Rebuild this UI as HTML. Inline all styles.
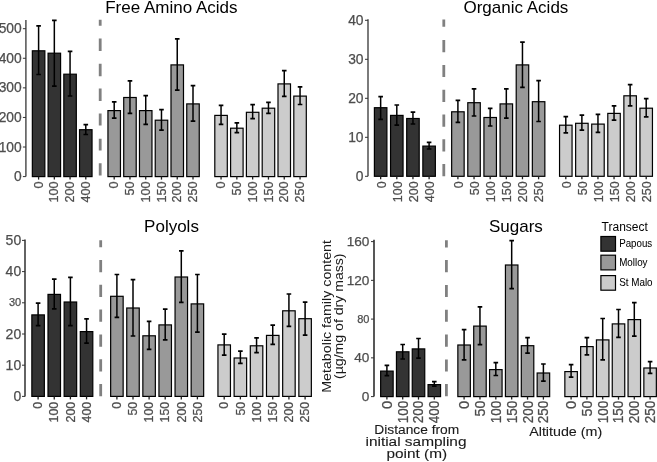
<!DOCTYPE html>
<html><head><meta charset="utf-8"><style>
html,body{margin:0;padding:0;background:#fff;}
svg{display:block;font-family:"Liberation Sans", sans-serif;will-change:transform;}
</style></head><body>
<svg width="657" height="462" viewBox="0 0 657 462">
<rect width="657" height="462" fill="#fff"/>
<text x="171.35" y="12.6" text-anchor="middle" font-size="17" fill="#000">Free Amino Acids</text>
<path d="M25.9 20V176.6" stroke="#444" stroke-width="1.4"/>
<path d="M22.9 176.6H25.9" stroke="#333" stroke-width="1"/>
<text x="21.7" y="181.15" text-anchor="end" font-size="13.8" fill="#4d4d4d" stroke="#4d4d4d" stroke-width="0.25">0</text>
<path d="M22.9 147.02H25.9" stroke="#333" stroke-width="1"/>
<text x="21.7" y="151.57" text-anchor="end" font-size="13.8" fill="#4d4d4d" stroke="#4d4d4d" stroke-width="0.25">100</text>
<path d="M22.9 117.44H25.9" stroke="#333" stroke-width="1"/>
<text x="21.7" y="121.99" text-anchor="end" font-size="13.8" fill="#4d4d4d" stroke="#4d4d4d" stroke-width="0.25">200</text>
<path d="M22.9 87.86H25.9" stroke="#333" stroke-width="1"/>
<text x="21.7" y="92.41" text-anchor="end" font-size="13.8" fill="#4d4d4d" stroke="#4d4d4d" stroke-width="0.25">300</text>
<path d="M22.9 58.28H25.9" stroke="#333" stroke-width="1"/>
<text x="21.7" y="62.83" text-anchor="end" font-size="13.8" fill="#4d4d4d" stroke="#4d4d4d" stroke-width="0.25">400</text>
<path d="M22.9 28.7H25.9" stroke="#333" stroke-width="1"/>
<text x="21.7" y="33.25" text-anchor="end" font-size="13.8" fill="#4d4d4d" stroke="#4d4d4d" stroke-width="0.25">500</text>
<path d="M100.2 19.8V25.7M100.2 38.6V51M100.2 63.8V76.2M100.2 88.6V101M100.2 113.6V125.5M100.2 138.7V150.5M100.2 163.3V175.5" stroke="#808080" stroke-width="2.8" fill="none"/>
<rect x="32.35" y="50.8" width="12.5" height="125.8" fill="#333333" stroke="#000" stroke-width="1.2"/>
<rect x="48.08" y="53.2" width="12.5" height="123.4" fill="#333333" stroke="#000" stroke-width="1.2"/>
<rect x="63.81" y="74.2" width="12.5" height="102.4" fill="#333333" stroke="#000" stroke-width="1.2"/>
<rect x="79.54" y="129.7" width="12.5" height="46.9" fill="#333333" stroke="#000" stroke-width="1.2"/>
<path d="M38.6 25.9V74.5" stroke="#000" stroke-width="1.5" fill="none"/>
<path d="M36.3 25.9H40.9M36.3 74.5H40.9" stroke="#000" stroke-width="1.7" fill="none"/>
<path d="M54.33 20.4V86.2" stroke="#000" stroke-width="1.5" fill="none"/>
<path d="M52.03 20.4H56.63M52.03 86.2H56.63" stroke="#000" stroke-width="1.7" fill="none"/>
<path d="M70.06 51.4V96" stroke="#000" stroke-width="1.5" fill="none"/>
<path d="M67.76 51.4H72.36M67.76 96H72.36" stroke="#000" stroke-width="1.7" fill="none"/>
<path d="M85.79 124.7V134.5" stroke="#000" stroke-width="1.5" fill="none"/>
<path d="M83.49 124.7H88.09M83.49 134.5H88.09" stroke="#000" stroke-width="1.7" fill="none"/>
<rect x="107.95" y="110.6" width="12.5" height="66" fill="#999999" stroke="#000" stroke-width="1.2"/>
<rect x="123.71" y="97.5" width="12.5" height="79.1" fill="#999999" stroke="#000" stroke-width="1.2"/>
<rect x="139.47" y="110.6" width="12.5" height="66" fill="#999999" stroke="#000" stroke-width="1.2"/>
<rect x="155.23" y="120.2" width="12.5" height="56.4" fill="#999999" stroke="#000" stroke-width="1.2"/>
<rect x="170.99" y="64.9" width="12.5" height="111.7" fill="#999999" stroke="#000" stroke-width="1.2"/>
<rect x="186.75" y="103.9" width="12.5" height="72.7" fill="#999999" stroke="#000" stroke-width="1.2"/>
<path d="M114.2 101.9V118.1" stroke="#000" stroke-width="1.5" fill="none"/>
<path d="M111.9 101.9H116.5M111.9 118.1H116.5" stroke="#000" stroke-width="1.7" fill="none"/>
<path d="M129.96 80.9V113.3" stroke="#000" stroke-width="1.5" fill="none"/>
<path d="M127.66 80.9H132.26M127.66 113.3H132.26" stroke="#000" stroke-width="1.7" fill="none"/>
<path d="M145.72 95.7V124.3" stroke="#000" stroke-width="1.5" fill="none"/>
<path d="M143.42 95.7H148.02M143.42 124.3H148.02" stroke="#000" stroke-width="1.7" fill="none"/>
<path d="M161.48 109.7V130.2" stroke="#000" stroke-width="1.5" fill="none"/>
<path d="M159.18 109.7H163.78M159.18 130.2H163.78" stroke="#000" stroke-width="1.7" fill="none"/>
<path d="M177.24 38.8V90.2" stroke="#000" stroke-width="1.5" fill="none"/>
<path d="M174.94 38.8H179.54M174.94 90.2H179.54" stroke="#000" stroke-width="1.7" fill="none"/>
<path d="M193 85.7V121.2" stroke="#000" stroke-width="1.5" fill="none"/>
<path d="M190.7 85.7H195.3M190.7 121.2H195.3" stroke="#000" stroke-width="1.7" fill="none"/>
<rect x="214.8" y="115.4" width="12.5" height="61.2" fill="#cccccc" stroke="#000" stroke-width="1.2"/>
<rect x="230.6" y="128.2" width="12.5" height="48.4" fill="#cccccc" stroke="#000" stroke-width="1.2"/>
<rect x="246.4" y="112.3" width="12.5" height="64.3" fill="#cccccc" stroke="#000" stroke-width="1.2"/>
<rect x="262.2" y="108.2" width="12.5" height="68.4" fill="#cccccc" stroke="#000" stroke-width="1.2"/>
<rect x="278" y="83.9" width="12.5" height="92.7" fill="#cccccc" stroke="#000" stroke-width="1.2"/>
<rect x="293.8" y="96.1" width="12.5" height="80.5" fill="#cccccc" stroke="#000" stroke-width="1.2"/>
<path d="M221.05 105.4V124.3" stroke="#000" stroke-width="1.5" fill="none"/>
<path d="M218.75 105.4H223.35M218.75 124.3H223.35" stroke="#000" stroke-width="1.7" fill="none"/>
<path d="M236.85 122.8V132.6" stroke="#000" stroke-width="1.5" fill="none"/>
<path d="M234.55 122.8H239.15M234.55 132.6H239.15" stroke="#000" stroke-width="1.7" fill="none"/>
<path d="M252.65 104.7V118.6" stroke="#000" stroke-width="1.5" fill="none"/>
<path d="M250.35 104.7H254.95M250.35 118.6H254.95" stroke="#000" stroke-width="1.7" fill="none"/>
<path d="M268.45 102.3V113.3" stroke="#000" stroke-width="1.5" fill="none"/>
<path d="M266.15 102.3H270.75M266.15 113.3H270.75" stroke="#000" stroke-width="1.7" fill="none"/>
<path d="M284.25 70.7V96.4" stroke="#000" stroke-width="1.5" fill="none"/>
<path d="M281.95 70.7H286.55M281.95 96.4H286.55" stroke="#000" stroke-width="1.7" fill="none"/>
<path d="M300.05 86.9V104.5" stroke="#000" stroke-width="1.5" fill="none"/>
<path d="M297.75 86.9H302.35M297.75 104.5H302.35" stroke="#000" stroke-width="1.7" fill="none"/>
<path d="M38.6 176.6V179.6" stroke="#222" stroke-width="1.3"/>
<text transform="translate(42.76 181.6) rotate(-90)" text-anchor="end" font-size="12.6" fill="#4d4d4d" stroke="#4d4d4d" stroke-width="0.25">0</text>
<path d="M54.33 176.6V179.6" stroke="#222" stroke-width="1.3"/>
<text transform="translate(58.49 181.6) rotate(-90)" text-anchor="end" font-size="12.6" fill="#4d4d4d" stroke="#4d4d4d" stroke-width="0.25">100</text>
<path d="M70.06 176.6V179.6" stroke="#222" stroke-width="1.3"/>
<text transform="translate(74.22 181.6) rotate(-90)" text-anchor="end" font-size="12.6" fill="#4d4d4d" stroke="#4d4d4d" stroke-width="0.25">200</text>
<path d="M85.79 176.6V179.6" stroke="#222" stroke-width="1.3"/>
<text transform="translate(89.95 181.6) rotate(-90)" text-anchor="end" font-size="12.6" fill="#4d4d4d" stroke="#4d4d4d" stroke-width="0.25">400</text>
<path d="M114.2 176.6V179.6" stroke="#222" stroke-width="1.3"/>
<text transform="translate(118.36 181.6) rotate(-90)" text-anchor="end" font-size="12.6" fill="#4d4d4d" stroke="#4d4d4d" stroke-width="0.25">0</text>
<path d="M129.96 176.6V179.6" stroke="#222" stroke-width="1.3"/>
<text transform="translate(134.12 181.6) rotate(-90)" text-anchor="end" font-size="12.6" fill="#4d4d4d" stroke="#4d4d4d" stroke-width="0.25">50</text>
<path d="M145.72 176.6V179.6" stroke="#222" stroke-width="1.3"/>
<text transform="translate(149.88 181.6) rotate(-90)" text-anchor="end" font-size="12.6" fill="#4d4d4d" stroke="#4d4d4d" stroke-width="0.25">100</text>
<path d="M161.48 176.6V179.6" stroke="#222" stroke-width="1.3"/>
<text transform="translate(165.64 181.6) rotate(-90)" text-anchor="end" font-size="12.6" fill="#4d4d4d" stroke="#4d4d4d" stroke-width="0.25">150</text>
<path d="M177.24 176.6V179.6" stroke="#222" stroke-width="1.3"/>
<text transform="translate(181.4 181.6) rotate(-90)" text-anchor="end" font-size="12.6" fill="#4d4d4d" stroke="#4d4d4d" stroke-width="0.25">200</text>
<path d="M193 176.6V179.6" stroke="#222" stroke-width="1.3"/>
<text transform="translate(197.16 181.6) rotate(-90)" text-anchor="end" font-size="12.6" fill="#4d4d4d" stroke="#4d4d4d" stroke-width="0.25">250</text>
<path d="M221.05 176.6V179.6" stroke="#222" stroke-width="1.3"/>
<text transform="translate(225.21 181.6) rotate(-90)" text-anchor="end" font-size="12.6" fill="#4d4d4d" stroke="#4d4d4d" stroke-width="0.25">0</text>
<path d="M236.85 176.6V179.6" stroke="#222" stroke-width="1.3"/>
<text transform="translate(241.01 181.6) rotate(-90)" text-anchor="end" font-size="12.6" fill="#4d4d4d" stroke="#4d4d4d" stroke-width="0.25">50</text>
<path d="M252.65 176.6V179.6" stroke="#222" stroke-width="1.3"/>
<text transform="translate(256.81 181.6) rotate(-90)" text-anchor="end" font-size="12.6" fill="#4d4d4d" stroke="#4d4d4d" stroke-width="0.25">100</text>
<path d="M268.45 176.6V179.6" stroke="#222" stroke-width="1.3"/>
<text transform="translate(272.61 181.6) rotate(-90)" text-anchor="end" font-size="12.6" fill="#4d4d4d" stroke="#4d4d4d" stroke-width="0.25">150</text>
<path d="M284.25 176.6V179.6" stroke="#222" stroke-width="1.3"/>
<text transform="translate(288.41 181.6) rotate(-90)" text-anchor="end" font-size="12.6" fill="#4d4d4d" stroke="#4d4d4d" stroke-width="0.25">200</text>
<path d="M300.05 176.6V179.6" stroke="#222" stroke-width="1.3"/>
<text transform="translate(304.21 181.6) rotate(-90)" text-anchor="end" font-size="12.6" fill="#4d4d4d" stroke="#4d4d4d" stroke-width="0.25">250</text>
<text x="515.9" y="12.6" text-anchor="middle" font-size="17" fill="#000">Organic Acids</text>
<path d="M368 19.3V176.3" stroke="#444" stroke-width="1.4"/>
<path d="M365 176.3H368" stroke="#333" stroke-width="1"/>
<text x="363.5" y="180.85" text-anchor="end" font-size="13.8" fill="#4d4d4d" stroke="#4d4d4d" stroke-width="0.25">0</text>
<path d="M365 137.3H368" stroke="#333" stroke-width="1"/>
<text x="363.5" y="141.85" text-anchor="end" font-size="13.8" fill="#4d4d4d" stroke="#4d4d4d" stroke-width="0.25">10</text>
<path d="M365 98.3H368" stroke="#333" stroke-width="1"/>
<text x="363.5" y="102.85" text-anchor="end" font-size="13.8" fill="#4d4d4d" stroke="#4d4d4d" stroke-width="0.25">20</text>
<path d="M365 59.3H368" stroke="#333" stroke-width="1"/>
<text x="363.5" y="63.85" text-anchor="end" font-size="13.8" fill="#4d4d4d" stroke="#4d4d4d" stroke-width="0.25">30</text>
<path d="M365 20.3H368" stroke="#333" stroke-width="1"/>
<text x="363.5" y="24.85" text-anchor="end" font-size="13.8" fill="#4d4d4d" stroke="#4d4d4d" stroke-width="0.25">40</text>
<path d="M443.8 19.6V26.8M443.8 40.1V52.2M443.8 65V77.1M443.8 89.8V102M443.8 114.5V126.7M443.8 139.3V151.5M443.8 164V176.2" stroke="#808080" stroke-width="2.8" fill="none"/>
<rect x="374.4" y="107.7" width="12.5" height="68.6" fill="#333333" stroke="#000" stroke-width="1.2"/>
<rect x="390.55" y="115.4" width="12.5" height="60.9" fill="#333333" stroke="#000" stroke-width="1.2"/>
<rect x="406.7" y="118.5" width="12.5" height="57.8" fill="#333333" stroke="#000" stroke-width="1.2"/>
<rect x="422.85" y="146.1" width="12.5" height="30.2" fill="#333333" stroke="#000" stroke-width="1.2"/>
<path d="M380.65 96.6V119.3" stroke="#000" stroke-width="1.5" fill="none"/>
<path d="M378.35 96.6H382.95M378.35 119.3H382.95" stroke="#000" stroke-width="1.7" fill="none"/>
<path d="M396.8 105V125.2" stroke="#000" stroke-width="1.5" fill="none"/>
<path d="M394.5 105H399.1M394.5 125.2H399.1" stroke="#000" stroke-width="1.7" fill="none"/>
<path d="M412.95 112.1V124" stroke="#000" stroke-width="1.5" fill="none"/>
<path d="M410.65 112.1H415.25M410.65 124H415.25" stroke="#000" stroke-width="1.7" fill="none"/>
<path d="M429.1 142.3V149" stroke="#000" stroke-width="1.5" fill="none"/>
<path d="M426.8 142.3H431.4M426.8 149H431.4" stroke="#000" stroke-width="1.7" fill="none"/>
<rect x="451.65" y="111.8" width="12.5" height="64.5" fill="#999999" stroke="#000" stroke-width="1.2"/>
<rect x="467.79" y="102.7" width="12.5" height="73.6" fill="#999999" stroke="#000" stroke-width="1.2"/>
<rect x="483.93" y="117.5" width="12.5" height="58.8" fill="#999999" stroke="#000" stroke-width="1.2"/>
<rect x="500.07" y="103.9" width="12.5" height="72.4" fill="#999999" stroke="#000" stroke-width="1.2"/>
<rect x="516.21" y="64.9" width="12.5" height="111.4" fill="#999999" stroke="#000" stroke-width="1.2"/>
<rect x="532.35" y="101.7" width="12.5" height="74.6" fill="#999999" stroke="#000" stroke-width="1.2"/>
<path d="M457.9 100.4V122.4" stroke="#000" stroke-width="1.5" fill="none"/>
<path d="M455.6 100.4H460.2M455.6 122.4H460.2" stroke="#000" stroke-width="1.7" fill="none"/>
<path d="M474.04 88.8V116" stroke="#000" stroke-width="1.5" fill="none"/>
<path d="M471.74 88.8H476.34M471.74 116H476.34" stroke="#000" stroke-width="1.7" fill="none"/>
<path d="M490.18 108.3V126" stroke="#000" stroke-width="1.5" fill="none"/>
<path d="M487.88 108.3H492.48M487.88 126H492.48" stroke="#000" stroke-width="1.7" fill="none"/>
<path d="M506.32 88.8V118.1" stroke="#000" stroke-width="1.5" fill="none"/>
<path d="M504.02 88.8H508.62M504.02 118.1H508.62" stroke="#000" stroke-width="1.7" fill="none"/>
<path d="M522.46 42.1V87.4" stroke="#000" stroke-width="1.5" fill="none"/>
<path d="M520.16 42.1H524.76M520.16 87.4H524.76" stroke="#000" stroke-width="1.7" fill="none"/>
<path d="M538.6 80.6V121.5" stroke="#000" stroke-width="1.5" fill="none"/>
<path d="M536.3 80.6H540.9M536.3 121.5H540.9" stroke="#000" stroke-width="1.7" fill="none"/>
<rect x="559.55" y="125.2" width="12.5" height="51.1" fill="#cccccc" stroke="#000" stroke-width="1.2"/>
<rect x="575.63" y="123.3" width="12.5" height="53" fill="#cccccc" stroke="#000" stroke-width="1.2"/>
<rect x="591.71" y="124.1" width="12.5" height="52.2" fill="#cccccc" stroke="#000" stroke-width="1.2"/>
<rect x="607.79" y="113.4" width="12.5" height="62.9" fill="#cccccc" stroke="#000" stroke-width="1.2"/>
<rect x="623.87" y="95.8" width="12.5" height="80.5" fill="#cccccc" stroke="#000" stroke-width="1.2"/>
<rect x="639.95" y="108.2" width="12.5" height="68.1" fill="#cccccc" stroke="#000" stroke-width="1.2"/>
<path d="M565.8 116.6V132.8" stroke="#000" stroke-width="1.5" fill="none"/>
<path d="M563.5 116.6H568.1M563.5 132.8H568.1" stroke="#000" stroke-width="1.7" fill="none"/>
<path d="M581.88 115.2V130.1" stroke="#000" stroke-width="1.5" fill="none"/>
<path d="M579.58 115.2H584.18M579.58 130.1H584.18" stroke="#000" stroke-width="1.7" fill="none"/>
<path d="M597.96 114.4V132.3" stroke="#000" stroke-width="1.5" fill="none"/>
<path d="M595.66 114.4H600.26M595.66 132.3H600.26" stroke="#000" stroke-width="1.7" fill="none"/>
<path d="M614.04 105.8V120.2" stroke="#000" stroke-width="1.5" fill="none"/>
<path d="M611.74 105.8H616.34M611.74 120.2H616.34" stroke="#000" stroke-width="1.7" fill="none"/>
<path d="M630.12 84.7V105.9" stroke="#000" stroke-width="1.5" fill="none"/>
<path d="M627.82 84.7H632.42M627.82 105.9H632.42" stroke="#000" stroke-width="1.7" fill="none"/>
<path d="M646.2 98.7V116.9" stroke="#000" stroke-width="1.5" fill="none"/>
<path d="M643.9 98.7H648.5M643.9 116.9H648.5" stroke="#000" stroke-width="1.7" fill="none"/>
<path d="M380.65 176.3V179.3" stroke="#222" stroke-width="1.3"/>
<text transform="translate(385.52 181.3) rotate(-90)" text-anchor="end" font-size="12.5" fill="#4d4d4d" stroke="#4d4d4d" stroke-width="0.25">0</text>
<path d="M396.8 176.3V179.3" stroke="#222" stroke-width="1.3"/>
<text transform="translate(401.67 181.3) rotate(-90)" text-anchor="end" font-size="12.5" fill="#4d4d4d" stroke="#4d4d4d" stroke-width="0.25">100</text>
<path d="M412.95 176.3V179.3" stroke="#222" stroke-width="1.3"/>
<text transform="translate(417.82 181.3) rotate(-90)" text-anchor="end" font-size="12.5" fill="#4d4d4d" stroke="#4d4d4d" stroke-width="0.25">200</text>
<path d="M429.1 176.3V179.3" stroke="#222" stroke-width="1.3"/>
<text transform="translate(433.97 181.3) rotate(-90)" text-anchor="end" font-size="12.5" fill="#4d4d4d" stroke="#4d4d4d" stroke-width="0.25">400</text>
<path d="M457.9 176.3V179.3" stroke="#222" stroke-width="1.3"/>
<text transform="translate(462.77 181.3) rotate(-90)" text-anchor="end" font-size="12.5" fill="#4d4d4d" stroke="#4d4d4d" stroke-width="0.25">0</text>
<path d="M474.04 176.3V179.3" stroke="#222" stroke-width="1.3"/>
<text transform="translate(478.91 181.3) rotate(-90)" text-anchor="end" font-size="12.5" fill="#4d4d4d" stroke="#4d4d4d" stroke-width="0.25">50</text>
<path d="M490.18 176.3V179.3" stroke="#222" stroke-width="1.3"/>
<text transform="translate(495.05 181.3) rotate(-90)" text-anchor="end" font-size="12.5" fill="#4d4d4d" stroke="#4d4d4d" stroke-width="0.25">100</text>
<path d="M506.32 176.3V179.3" stroke="#222" stroke-width="1.3"/>
<text transform="translate(511.19 181.3) rotate(-90)" text-anchor="end" font-size="12.5" fill="#4d4d4d" stroke="#4d4d4d" stroke-width="0.25">150</text>
<path d="M522.46 176.3V179.3" stroke="#222" stroke-width="1.3"/>
<text transform="translate(527.34 181.3) rotate(-90)" text-anchor="end" font-size="12.5" fill="#4d4d4d" stroke="#4d4d4d" stroke-width="0.25">200</text>
<path d="M538.6 176.3V179.3" stroke="#222" stroke-width="1.3"/>
<text transform="translate(543.48 181.3) rotate(-90)" text-anchor="end" font-size="12.5" fill="#4d4d4d" stroke="#4d4d4d" stroke-width="0.25">250</text>
<path d="M565.8 176.3V179.3" stroke="#222" stroke-width="1.3"/>
<text transform="translate(570.67 181.3) rotate(-90)" text-anchor="end" font-size="12.5" fill="#4d4d4d" stroke="#4d4d4d" stroke-width="0.25">0</text>
<path d="M581.88 176.3V179.3" stroke="#222" stroke-width="1.3"/>
<text transform="translate(586.75 181.3) rotate(-90)" text-anchor="end" font-size="12.5" fill="#4d4d4d" stroke="#4d4d4d" stroke-width="0.25">50</text>
<path d="M597.96 176.3V179.3" stroke="#222" stroke-width="1.3"/>
<text transform="translate(602.83 181.3) rotate(-90)" text-anchor="end" font-size="12.5" fill="#4d4d4d" stroke="#4d4d4d" stroke-width="0.25">100</text>
<path d="M614.04 176.3V179.3" stroke="#222" stroke-width="1.3"/>
<text transform="translate(618.91 181.3) rotate(-90)" text-anchor="end" font-size="12.5" fill="#4d4d4d" stroke="#4d4d4d" stroke-width="0.25">150</text>
<path d="M630.12 176.3V179.3" stroke="#222" stroke-width="1.3"/>
<text transform="translate(634.99 181.3) rotate(-90)" text-anchor="end" font-size="12.5" fill="#4d4d4d" stroke="#4d4d4d" stroke-width="0.25">200</text>
<path d="M646.2 176.3V179.3" stroke="#222" stroke-width="1.3"/>
<text transform="translate(651.07 181.3) rotate(-90)" text-anchor="end" font-size="12.5" fill="#4d4d4d" stroke="#4d4d4d" stroke-width="0.25">250</text>
<text x="171.5" y="232.2" text-anchor="middle" font-size="17" fill="#000">Polyols</text>
<path d="M25 239.5V396.4" stroke="#222" stroke-width="1.4"/>
<path d="M22 396.4H25" stroke="#333" stroke-width="1"/>
<text x="21.2" y="401.02" text-anchor="end" font-size="14.0" fill="#4d4d4d" stroke="#4d4d4d" stroke-width="0.25">0</text>
<path d="M22 365.2H25" stroke="#333" stroke-width="1"/>
<text x="21.2" y="369.82" text-anchor="end" font-size="14.0" fill="#4d4d4d" stroke="#4d4d4d" stroke-width="0.25">10</text>
<path d="M22 334H25" stroke="#333" stroke-width="1"/>
<text x="21.2" y="338.62" text-anchor="end" font-size="14.0" fill="#4d4d4d" stroke="#4d4d4d" stroke-width="0.25">20</text>
<path d="M22 302.8H25" stroke="#333" stroke-width="1"/>
<text x="21.2" y="306.43" text-anchor="end" font-size="11" fill="#4d4d4d" stroke="#4d4d4d" stroke-width="0.25">30</text>
<path d="M22 271.6H25" stroke="#333" stroke-width="1"/>
<text x="21.2" y="276.22" text-anchor="end" font-size="14.0" fill="#4d4d4d" stroke="#4d4d4d" stroke-width="0.25">40</text>
<path d="M22 240.4H25" stroke="#333" stroke-width="1"/>
<text x="21.2" y="245.02" text-anchor="end" font-size="14.0" fill="#4d4d4d" stroke="#4d4d4d" stroke-width="0.25">50</text>
<path d="M100.7 240.3V247.2M100.7 260V272.2M100.7 284.8V297M100.7 309.6V321.8M100.7 334.5V346.7M100.7 359.3V371.5M100.7 384V396.2" stroke="#808080" stroke-width="2.8" fill="none"/>
<rect x="31.85" y="314.9" width="12.5" height="81.5" fill="#333333" stroke="#000" stroke-width="1.2"/>
<rect x="48" y="294.4" width="12.5" height="102" fill="#333333" stroke="#000" stroke-width="1.2"/>
<rect x="64.15" y="302" width="12.5" height="94.4" fill="#333333" stroke="#000" stroke-width="1.2"/>
<rect x="80.3" y="331.6" width="12.5" height="64.8" fill="#333333" stroke="#000" stroke-width="1.2"/>
<path d="M38.1 303.1V325.7" stroke="#000" stroke-width="1.5" fill="none"/>
<path d="M35.8 303.1H40.4M35.8 325.7H40.4" stroke="#000" stroke-width="1.7" fill="none"/>
<path d="M54.25 279.2V308.8" stroke="#000" stroke-width="1.5" fill="none"/>
<path d="M51.95 279.2H56.55M51.95 308.8H56.55" stroke="#000" stroke-width="1.7" fill="none"/>
<path d="M70.4 277.3V325.7" stroke="#000" stroke-width="1.5" fill="none"/>
<path d="M68.1 277.3H72.7M68.1 325.7H72.7" stroke="#000" stroke-width="1.7" fill="none"/>
<path d="M86.55 318.8V343.1" stroke="#000" stroke-width="1.5" fill="none"/>
<path d="M84.25 318.8H88.85M84.25 343.1H88.85" stroke="#000" stroke-width="1.7" fill="none"/>
<rect x="110.65" y="296.3" width="12.5" height="100.1" fill="#999999" stroke="#000" stroke-width="1.2"/>
<rect x="126.75" y="308" width="12.5" height="88.4" fill="#999999" stroke="#000" stroke-width="1.2"/>
<rect x="142.85" y="335.8" width="12.5" height="60.6" fill="#999999" stroke="#000" stroke-width="1.2"/>
<rect x="158.95" y="324.9" width="12.5" height="71.5" fill="#999999" stroke="#000" stroke-width="1.2"/>
<rect x="175.05" y="277" width="12.5" height="119.4" fill="#999999" stroke="#000" stroke-width="1.2"/>
<rect x="191.15" y="303.9" width="12.5" height="92.5" fill="#999999" stroke="#000" stroke-width="1.2"/>
<path d="M116.9 274.5V317.4" stroke="#000" stroke-width="1.5" fill="none"/>
<path d="M114.6 274.5H119.2M114.6 317.4H119.2" stroke="#000" stroke-width="1.7" fill="none"/>
<path d="M133 279.7V336" stroke="#000" stroke-width="1.5" fill="none"/>
<path d="M130.7 279.7H135.3M130.7 336H135.3" stroke="#000" stroke-width="1.7" fill="none"/>
<path d="M149.1 321.4V349.3" stroke="#000" stroke-width="1.5" fill="none"/>
<path d="M146.8 321.4H151.4M146.8 349.3H151.4" stroke="#000" stroke-width="1.7" fill="none"/>
<path d="M165.2 309.2V339.8" stroke="#000" stroke-width="1.5" fill="none"/>
<path d="M162.9 309.2H167.5M162.9 339.8H167.5" stroke="#000" stroke-width="1.7" fill="none"/>
<path d="M181.3 250.9V302.4" stroke="#000" stroke-width="1.5" fill="none"/>
<path d="M179 250.9H183.6M179 302.4H183.6" stroke="#000" stroke-width="1.7" fill="none"/>
<path d="M197.4 274.5V332.1" stroke="#000" stroke-width="1.5" fill="none"/>
<path d="M195.1 274.5H199.7M195.1 332.1H199.7" stroke="#000" stroke-width="1.7" fill="none"/>
<rect x="217.95" y="344.9" width="12.5" height="51.5" fill="#cccccc" stroke="#000" stroke-width="1.2"/>
<rect x="234.13" y="358" width="12.5" height="38.4" fill="#cccccc" stroke="#000" stroke-width="1.2"/>
<rect x="250.31" y="345.8" width="12.5" height="50.6" fill="#cccccc" stroke="#000" stroke-width="1.2"/>
<rect x="266.49" y="335.4" width="12.5" height="61" fill="#cccccc" stroke="#000" stroke-width="1.2"/>
<rect x="282.67" y="310.8" width="12.5" height="85.6" fill="#cccccc" stroke="#000" stroke-width="1.2"/>
<rect x="298.85" y="318.7" width="12.5" height="77.7" fill="#cccccc" stroke="#000" stroke-width="1.2"/>
<path d="M224.2 334.2V355.2" stroke="#000" stroke-width="1.5" fill="none"/>
<path d="M221.9 334.2H226.5M221.9 355.2H226.5" stroke="#000" stroke-width="1.7" fill="none"/>
<path d="M240.38 351.2V363.3" stroke="#000" stroke-width="1.5" fill="none"/>
<path d="M238.08 351.2H242.68M238.08 363.3H242.68" stroke="#000" stroke-width="1.7" fill="none"/>
<path d="M256.56 337.8V352.6" stroke="#000" stroke-width="1.5" fill="none"/>
<path d="M254.26 337.8H258.86M254.26 352.6H258.86" stroke="#000" stroke-width="1.7" fill="none"/>
<path d="M272.74 325.2V344.3" stroke="#000" stroke-width="1.5" fill="none"/>
<path d="M270.44 325.2H275.04M270.44 344.3H275.04" stroke="#000" stroke-width="1.7" fill="none"/>
<path d="M288.92 294V326.4" stroke="#000" stroke-width="1.5" fill="none"/>
<path d="M286.62 294H291.22M286.62 326.4H291.22" stroke="#000" stroke-width="1.7" fill="none"/>
<path d="M305.1 302.1V335.2" stroke="#000" stroke-width="1.5" fill="none"/>
<path d="M302.8 302.1H307.4M302.8 335.2H307.4" stroke="#000" stroke-width="1.7" fill="none"/>
<path d="M38.1 396.4V399.4" stroke="#222" stroke-width="1.3"/>
<text transform="translate(42.32 401.8) rotate(-90)" text-anchor="end" font-size="12.4" fill="#4d4d4d" stroke="#4d4d4d" stroke-width="0.25">0</text>
<path d="M54.25 396.4V399.4" stroke="#222" stroke-width="1.3"/>
<text transform="translate(58.47 401.8) rotate(-90)" text-anchor="end" font-size="12.4" fill="#4d4d4d" stroke="#4d4d4d" stroke-width="0.25">100</text>
<path d="M70.4 396.4V399.4" stroke="#222" stroke-width="1.3"/>
<text transform="translate(74.62 401.8) rotate(-90)" text-anchor="end" font-size="12.4" fill="#4d4d4d" stroke="#4d4d4d" stroke-width="0.25">200</text>
<path d="M86.55 396.4V399.4" stroke="#222" stroke-width="1.3"/>
<text transform="translate(90.77 401.8) rotate(-90)" text-anchor="end" font-size="12.4" fill="#4d4d4d" stroke="#4d4d4d" stroke-width="0.25">400</text>
<path d="M116.9 396.4V399.4" stroke="#222" stroke-width="1.3"/>
<text transform="translate(121.12 401.8) rotate(-90)" text-anchor="end" font-size="12.4" fill="#4d4d4d" stroke="#4d4d4d" stroke-width="0.25">0</text>
<path d="M133 396.4V399.4" stroke="#222" stroke-width="1.3"/>
<text transform="translate(137.22 401.8) rotate(-90)" text-anchor="end" font-size="12.4" fill="#4d4d4d" stroke="#4d4d4d" stroke-width="0.25">50</text>
<path d="M149.1 396.4V399.4" stroke="#222" stroke-width="1.3"/>
<text transform="translate(153.32 401.8) rotate(-90)" text-anchor="end" font-size="12.4" fill="#4d4d4d" stroke="#4d4d4d" stroke-width="0.25">100</text>
<path d="M165.2 396.4V399.4" stroke="#222" stroke-width="1.3"/>
<text transform="translate(169.42 401.8) rotate(-90)" text-anchor="end" font-size="12.4" fill="#4d4d4d" stroke="#4d4d4d" stroke-width="0.25">150</text>
<path d="M181.3 396.4V399.4" stroke="#222" stroke-width="1.3"/>
<text transform="translate(185.52 401.8) rotate(-90)" text-anchor="end" font-size="12.4" fill="#4d4d4d" stroke="#4d4d4d" stroke-width="0.25">200</text>
<path d="M197.4 396.4V399.4" stroke="#222" stroke-width="1.3"/>
<text transform="translate(201.62 401.8) rotate(-90)" text-anchor="end" font-size="12.4" fill="#4d4d4d" stroke="#4d4d4d" stroke-width="0.25">250</text>
<path d="M224.2 396.4V399.4" stroke="#222" stroke-width="1.3"/>
<text transform="translate(228.42 401.8) rotate(-90)" text-anchor="end" font-size="12.4" fill="#4d4d4d" stroke="#4d4d4d" stroke-width="0.25">0</text>
<path d="M240.38 396.4V399.4" stroke="#222" stroke-width="1.3"/>
<text transform="translate(244.6 401.8) rotate(-90)" text-anchor="end" font-size="12.4" fill="#4d4d4d" stroke="#4d4d4d" stroke-width="0.25">50</text>
<path d="M256.56 396.4V399.4" stroke="#222" stroke-width="1.3"/>
<text transform="translate(260.78 401.8) rotate(-90)" text-anchor="end" font-size="12.4" fill="#4d4d4d" stroke="#4d4d4d" stroke-width="0.25">100</text>
<path d="M272.74 396.4V399.4" stroke="#222" stroke-width="1.3"/>
<text transform="translate(276.96 401.8) rotate(-90)" text-anchor="end" font-size="12.4" fill="#4d4d4d" stroke="#4d4d4d" stroke-width="0.25">150</text>
<path d="M288.92 396.4V399.4" stroke="#222" stroke-width="1.3"/>
<text transform="translate(293.14 401.8) rotate(-90)" text-anchor="end" font-size="12.4" fill="#4d4d4d" stroke="#4d4d4d" stroke-width="0.25">200</text>
<path d="M305.1 396.4V399.4" stroke="#222" stroke-width="1.3"/>
<text transform="translate(309.32 401.8) rotate(-90)" text-anchor="end" font-size="12.4" fill="#4d4d4d" stroke="#4d4d4d" stroke-width="0.25">250</text>
<text x="515.9" y="232.4" text-anchor="middle" font-size="17" fill="#000">Sugars</text>
<path d="M374 239.8V396.6" stroke="#111" stroke-width="1.4"/>
<path d="M371 396.6H374" stroke="#333" stroke-width="1"/>
<text x="369.4" y="401.09" text-anchor="end" font-size="13.6" fill="#4d4d4d" stroke="#4d4d4d" stroke-width="0.25">0</text>
<path d="M371 357.85H374" stroke="#333" stroke-width="1"/>
<text x="369.4" y="362.34" text-anchor="end" font-size="13.6" fill="#4d4d4d" stroke="#4d4d4d" stroke-width="0.25">40</text>
<path d="M371 319.1H374" stroke="#333" stroke-width="1"/>
<text x="369.4" y="322.73" text-anchor="end" font-size="11" fill="#4d4d4d" stroke="#4d4d4d" stroke-width="0.25">80</text>
<path d="M371 280.35H374" stroke="#333" stroke-width="1"/>
<text x="369.4" y="284.84" text-anchor="end" font-size="13.6" fill="#4d4d4d" stroke="#4d4d4d" stroke-width="0.25">120</text>
<path d="M371 241.6H374" stroke="#333" stroke-width="1"/>
<text x="369.4" y="246.09" text-anchor="end" font-size="13.6" fill="#4d4d4d" stroke="#4d4d4d" stroke-width="0.25">160</text>
<path d="M446.4 240.3V247.4M446.4 260.1V272.2M446.4 284.9V297.1M446.4 309.7V321.7M446.4 334.6V346.8M446.4 359.4V371.6M446.4 384V396.2" stroke="#808080" stroke-width="2.8" fill="none"/>
<rect x="380.65" y="371.1" width="12.5" height="25.5" fill="#333333" stroke="#000" stroke-width="1.2"/>
<rect x="396.45" y="351.8" width="12.5" height="44.8" fill="#333333" stroke="#000" stroke-width="1.2"/>
<rect x="412.25" y="348.9" width="12.5" height="47.7" fill="#333333" stroke="#000" stroke-width="1.2"/>
<rect x="428.05" y="384.6" width="12.5" height="12" fill="#333333" stroke="#000" stroke-width="1.2"/>
<path d="M386.9 365.4V375.7" stroke="#000" stroke-width="1.5" fill="none"/>
<path d="M384.6 365.4H389.2M384.6 375.7H389.2" stroke="#000" stroke-width="1.7" fill="none"/>
<path d="M402.7 344.5V359" stroke="#000" stroke-width="1.5" fill="none"/>
<path d="M400.4 344.5H405M400.4 359H405" stroke="#000" stroke-width="1.7" fill="none"/>
<path d="M418.5 338.5V358.1" stroke="#000" stroke-width="1.5" fill="none"/>
<path d="M416.2 338.5H420.8M416.2 358.1H420.8" stroke="#000" stroke-width="1.7" fill="none"/>
<path d="M434.3 381.6V386.2" stroke="#000" stroke-width="1.5" fill="none"/>
<path d="M432 381.6H436.6M432 386.2H436.6" stroke="#000" stroke-width="1.7" fill="none"/>
<rect x="457.85" y="345" width="12.5" height="51.6" fill="#999999" stroke="#000" stroke-width="1.2"/>
<rect x="473.71" y="326.1" width="12.5" height="70.5" fill="#999999" stroke="#000" stroke-width="1.2"/>
<rect x="489.57" y="369.6" width="12.5" height="27" fill="#999999" stroke="#000" stroke-width="1.2"/>
<rect x="505.43" y="265" width="12.5" height="131.6" fill="#999999" stroke="#000" stroke-width="1.2"/>
<rect x="521.29" y="345.7" width="12.5" height="50.9" fill="#999999" stroke="#000" stroke-width="1.2"/>
<rect x="537.15" y="373" width="12.5" height="23.6" fill="#999999" stroke="#000" stroke-width="1.2"/>
<path d="M464.1 329.6V359.8" stroke="#000" stroke-width="1.5" fill="none"/>
<path d="M461.8 329.6H466.4M461.8 359.8H466.4" stroke="#000" stroke-width="1.7" fill="none"/>
<path d="M479.96 306.9V344.6" stroke="#000" stroke-width="1.5" fill="none"/>
<path d="M477.66 306.9H482.26M477.66 344.6H482.26" stroke="#000" stroke-width="1.7" fill="none"/>
<path d="M495.82 362.6V375.5" stroke="#000" stroke-width="1.5" fill="none"/>
<path d="M493.52 362.6H498.12M493.52 375.5H498.12" stroke="#000" stroke-width="1.7" fill="none"/>
<path d="M511.68 240.7V288.6" stroke="#000" stroke-width="1.5" fill="none"/>
<path d="M509.38 240.7H513.98M509.38 288.6H513.98" stroke="#000" stroke-width="1.7" fill="none"/>
<path d="M527.54 337.7V353.2" stroke="#000" stroke-width="1.5" fill="none"/>
<path d="M525.24 337.7H529.84M525.24 353.2H529.84" stroke="#000" stroke-width="1.7" fill="none"/>
<path d="M543.4 364V381.2" stroke="#000" stroke-width="1.5" fill="none"/>
<path d="M541.1 364H545.7M541.1 381.2H545.7" stroke="#000" stroke-width="1.7" fill="none"/>
<rect x="564.85" y="371.6" width="12.5" height="25" fill="#cccccc" stroke="#000" stroke-width="1.2"/>
<rect x="580.65" y="346.6" width="12.5" height="50" fill="#cccccc" stroke="#000" stroke-width="1.2"/>
<rect x="596.45" y="339.9" width="12.5" height="56.7" fill="#cccccc" stroke="#000" stroke-width="1.2"/>
<rect x="612.25" y="323.9" width="12.5" height="72.7" fill="#cccccc" stroke="#000" stroke-width="1.2"/>
<rect x="628.05" y="319.6" width="12.5" height="77" fill="#cccccc" stroke="#000" stroke-width="1.2"/>
<rect x="643.85" y="368" width="12.5" height="28.6" fill="#cccccc" stroke="#000" stroke-width="1.2"/>
<path d="M571.1 364.7V377.1" stroke="#000" stroke-width="1.5" fill="none"/>
<path d="M568.8 364.7H573.4M568.8 377.1H573.4" stroke="#000" stroke-width="1.7" fill="none"/>
<path d="M586.9 337.6V354.8" stroke="#000" stroke-width="1.5" fill="none"/>
<path d="M584.6 337.6H589.2M584.6 354.8H589.2" stroke="#000" stroke-width="1.7" fill="none"/>
<path d="M602.7 318.5V359.8" stroke="#000" stroke-width="1.5" fill="none"/>
<path d="M600.4 318.5H605M600.4 359.8H605" stroke="#000" stroke-width="1.7" fill="none"/>
<path d="M618.5 309.5V337.4" stroke="#000" stroke-width="1.5" fill="none"/>
<path d="M616.2 309.5H620.8M616.2 337.4H620.8" stroke="#000" stroke-width="1.7" fill="none"/>
<path d="M634.3 302.6V336.2" stroke="#000" stroke-width="1.5" fill="none"/>
<path d="M632 302.6H636.6M632 336.2H636.6" stroke="#000" stroke-width="1.7" fill="none"/>
<path d="M650.1 361.6V373.3" stroke="#000" stroke-width="1.5" fill="none"/>
<path d="M647.8 361.6H652.4M647.8 373.3H652.4" stroke="#000" stroke-width="1.7" fill="none"/>
<path d="M386.9 396.6V399.6" stroke="#222" stroke-width="1.3"/>
<text transform="translate(391.87 400.6) rotate(-90)" text-anchor="end" font-size="14" fill="#4d4d4d" stroke="#4d4d4d" stroke-width="0.25" textLength="8.3" lengthAdjust="spacingAndGlyphs">0</text>
<path d="M402.7 396.6V399.6" stroke="#222" stroke-width="1.3"/>
<text transform="translate(407.67 400.6) rotate(-90)" text-anchor="end" font-size="14" fill="#4d4d4d" stroke="#4d4d4d" stroke-width="0.25" textLength="22.6" lengthAdjust="spacingAndGlyphs">100</text>
<path d="M418.5 396.6V399.6" stroke="#222" stroke-width="1.3"/>
<text transform="translate(423.47 400.6) rotate(-90)" text-anchor="end" font-size="14" fill="#4d4d4d" stroke="#4d4d4d" stroke-width="0.25" textLength="22.6" lengthAdjust="spacingAndGlyphs">200</text>
<path d="M434.3 396.6V399.6" stroke="#222" stroke-width="1.3"/>
<text transform="translate(439.27 400.6) rotate(-90)" text-anchor="end" font-size="14" fill="#4d4d4d" stroke="#4d4d4d" stroke-width="0.25" textLength="22.6" lengthAdjust="spacingAndGlyphs">400</text>
<path d="M464.1 396.6V399.6" stroke="#222" stroke-width="1.3"/>
<text transform="translate(469.07 400.6) rotate(-90)" text-anchor="end" font-size="14" fill="#4d4d4d" stroke="#4d4d4d" stroke-width="0.25" textLength="8.3" lengthAdjust="spacingAndGlyphs">0</text>
<path d="M479.96 396.6V399.6" stroke="#222" stroke-width="1.3"/>
<text transform="translate(484.93 400.6) rotate(-90)" text-anchor="end" font-size="14" fill="#4d4d4d" stroke="#4d4d4d" stroke-width="0.25" textLength="15.8" lengthAdjust="spacingAndGlyphs">50</text>
<path d="M495.82 396.6V399.6" stroke="#222" stroke-width="1.3"/>
<text transform="translate(500.79 400.6) rotate(-90)" text-anchor="end" font-size="14" fill="#4d4d4d" stroke="#4d4d4d" stroke-width="0.25" textLength="22.6" lengthAdjust="spacingAndGlyphs">100</text>
<path d="M511.68 396.6V399.6" stroke="#222" stroke-width="1.3"/>
<text transform="translate(516.65 400.6) rotate(-90)" text-anchor="end" font-size="14" fill="#4d4d4d" stroke="#4d4d4d" stroke-width="0.25" textLength="22.6" lengthAdjust="spacingAndGlyphs">150</text>
<path d="M527.54 396.6V399.6" stroke="#222" stroke-width="1.3"/>
<text transform="translate(532.51 400.6) rotate(-90)" text-anchor="end" font-size="14" fill="#4d4d4d" stroke="#4d4d4d" stroke-width="0.25" textLength="22.6" lengthAdjust="spacingAndGlyphs">200</text>
<path d="M543.4 396.6V399.6" stroke="#222" stroke-width="1.3"/>
<text transform="translate(548.37 400.6) rotate(-90)" text-anchor="end" font-size="14" fill="#4d4d4d" stroke="#4d4d4d" stroke-width="0.25" textLength="22.6" lengthAdjust="spacingAndGlyphs">250</text>
<path d="M571.1 396.6V399.6" stroke="#222" stroke-width="1.3"/>
<text transform="translate(576.07 400.6) rotate(-90)" text-anchor="end" font-size="14" fill="#4d4d4d" stroke="#4d4d4d" stroke-width="0.25" textLength="8.3" lengthAdjust="spacingAndGlyphs">0</text>
<path d="M586.9 396.6V399.6" stroke="#222" stroke-width="1.3"/>
<text transform="translate(591.87 400.6) rotate(-90)" text-anchor="end" font-size="14" fill="#4d4d4d" stroke="#4d4d4d" stroke-width="0.25" textLength="15.8" lengthAdjust="spacingAndGlyphs">50</text>
<path d="M602.7 396.6V399.6" stroke="#222" stroke-width="1.3"/>
<text transform="translate(607.67 400.6) rotate(-90)" text-anchor="end" font-size="14" fill="#4d4d4d" stroke="#4d4d4d" stroke-width="0.25" textLength="22.6" lengthAdjust="spacingAndGlyphs">100</text>
<path d="M618.5 396.6V399.6" stroke="#222" stroke-width="1.3"/>
<text transform="translate(623.47 400.6) rotate(-90)" text-anchor="end" font-size="14" fill="#4d4d4d" stroke="#4d4d4d" stroke-width="0.25" textLength="22.6" lengthAdjust="spacingAndGlyphs">150</text>
<path d="M634.3 396.6V399.6" stroke="#222" stroke-width="1.3"/>
<text transform="translate(639.27 400.6) rotate(-90)" text-anchor="end" font-size="14" fill="#4d4d4d" stroke="#4d4d4d" stroke-width="0.25" textLength="22.6" lengthAdjust="spacingAndGlyphs">200</text>
<path d="M650.1 396.6V399.6" stroke="#222" stroke-width="1.3"/>
<text transform="translate(655.07 400.6) rotate(-90)" text-anchor="end" font-size="14" fill="#4d4d4d" stroke="#4d4d4d" stroke-width="0.25" textLength="22.6" lengthAdjust="spacingAndGlyphs">250</text>
<text transform="translate(330.9 316.4) rotate(-90)" text-anchor="middle" font-size="12.6" fill="#1a1a1a" textLength="152.8" lengthAdjust="spacingAndGlyphs">Metabolic family content</text>
<text transform="translate(342.7 316.2) rotate(-90)" text-anchor="middle" font-size="12.6" fill="#1a1a1a" textLength="125.5" lengthAdjust="spacingAndGlyphs">(µg/mg of dry mass)</text>
<text x="416.75" y="433.6" text-anchor="middle" font-size="12.5" fill="#1a1a1a" stroke="#1a1a1a" stroke-width="0.1" textLength="85" lengthAdjust="spacingAndGlyphs">Distance from</text>
<text x="416.0" y="445.5" text-anchor="middle" font-size="12.5" fill="#1a1a1a" stroke="#1a1a1a" stroke-width="0.1" textLength="101" lengthAdjust="spacingAndGlyphs">initial sampling</text>
<text x="416.8" y="458.3" text-anchor="middle" font-size="12.5" fill="#1a1a1a" stroke="#1a1a1a" stroke-width="0.1" textLength="60.6" lengthAdjust="spacingAndGlyphs">point (m)</text>
<text x="565.7" y="436.2" text-anchor="middle" font-size="12.5" fill="#1a1a1a" stroke="#1a1a1a" stroke-width="0.1" textLength="73" lengthAdjust="spacingAndGlyphs">Altitude (m)</text>
<text x="601.6" y="230.7" font-size="12" fill="#000">Transect</text>
<rect x="600.9" y="236.5" width="14.6" height="14.7" fill="#333333" stroke="#000" stroke-width="1.2"/>
<text x="619.2" y="247.4" font-size="10.4" fill="#000" stroke="#000" stroke-width="0.05" textLength="33.0" lengthAdjust="spacingAndGlyphs">Papous</text>
<rect x="600.9" y="255.2" width="14.6" height="14.7" fill="#999999" stroke="#000" stroke-width="1.2"/>
<text x="619.2" y="266.3" font-size="10.4" fill="#000" stroke="#000" stroke-width="0.05" textLength="28.3" lengthAdjust="spacingAndGlyphs">Molloy</text>
<rect x="600.9" y="275.6" width="14.6" height="14.6" fill="#cccccc" stroke="#000" stroke-width="1.2"/>
<text x="619.2" y="286.4" font-size="10.4" fill="#000" stroke="#000" stroke-width="0.05" textLength="33.4" lengthAdjust="spacingAndGlyphs">St Malo</text>
</svg>
</body></html>
